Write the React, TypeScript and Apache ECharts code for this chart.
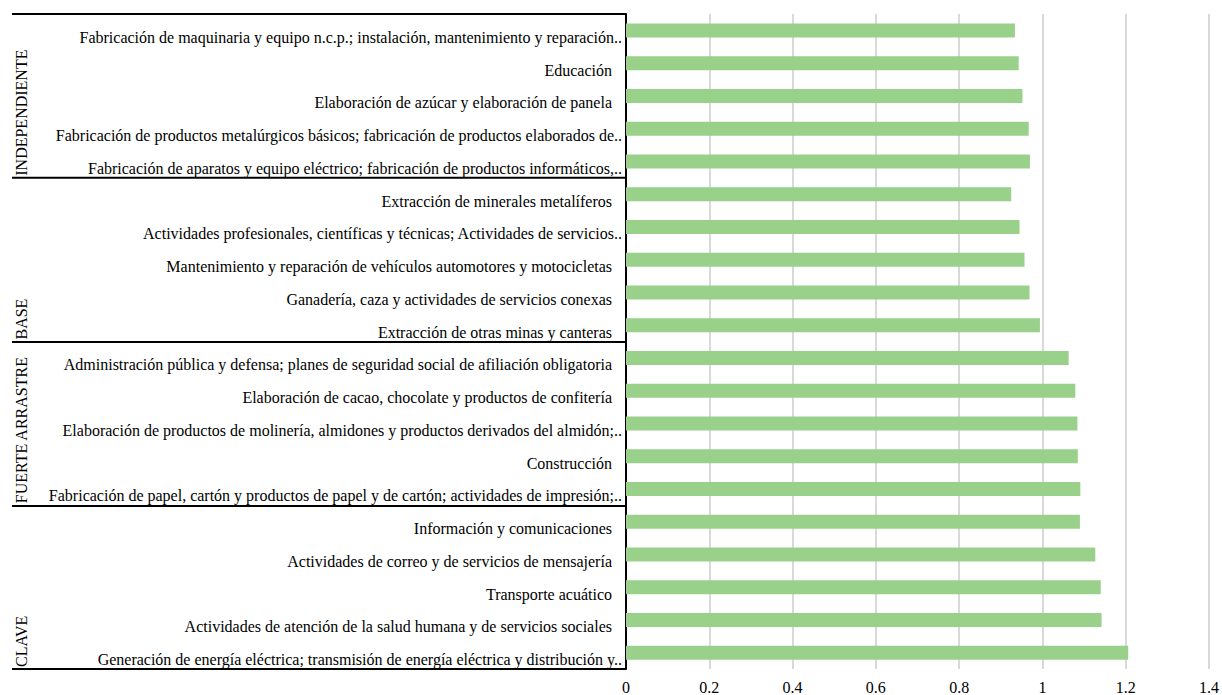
import React, { useEffect, useRef } from "react";
import * as echarts from "echarts";

const categories = [
  "Fabricación de maquinaria y equipo n.c.p.; instalación, mantenimiento y reparación..",
  "Educación",
  "Elaboración de azúcar y elaboración de panela",
  "Fabricación de productos metalúrgicos básicos; fabricación de productos elaborados de..",
  "Fabricación de aparatos y equipo eléctrico; fabricación de productos informáticos,..",
  "Extracción de minerales metalíferos",
  "Actividades profesionales, científicas y técnicas; Actividades de servicios..",
  "Mantenimiento y reparación de vehículos automotores y motocicletas",
  "Ganadería, caza y actividades de servicios conexas",
  "Extracción de otras minas y canteras",
  "Administración pública y defensa; planes de seguridad social de afiliación obligatoria",
  "Elaboración de cacao, chocolate y productos de confitería",
  "Elaboración de productos de molinería, almidones y productos derivados del almidón;..",
  "Construcción",
  "Fabricación de papel, cartón y productos de papel y de cartón; actividades de impresión;..",
  "Información y comunicaciones",
  "Actividades de correo y de servicios de mensajería",
  "Transporte acuático",
  "Actividades de atención de la salud humana y de servicios sociales",
  "Generación de energía eléctrica; transmisión de energía eléctrica y distribución y..",
];

const values = [
  0.934, 0.943, 0.952, 0.967, 0.97, 0.925, 0.945, 0.957, 0.969, 0.994, 1.063, 1.079, 1.084, 1.085,
  1.091, 1.09, 1.127, 1.14, 1.142, 1.206,
];

const groups = ["INDEPENDIENTE", "BASE", "FUERTE ARRASTRE", "CLAVE"];
const groupSizes = [5, 5, 5, 5];

const xMin = 0;
const xMax = 1.4;
const xInterval = 0.2;

const FONT = "'Liberation Serif', 'Times New Roman', serif";
const FS = 16;

export default function App() {
  const ref = useRef<HTMLDivElement>(null);

  useEffect(() => {
    if (!ref.current) return;
    const chart = echarts.init(ref.current, null, { renderer: "svg" });
    const boundaries = new Set<number>();
    let acc = 0;
    groupSizes.forEach((s) => {
      boundaries.add(acc);
      acc += s;
    });

    chart.setOption({
      animation: false,
      backgroundColor: "#ffffff",
      textStyle: { fontFamily: FONT },
      grid: { left: 626, right: 10, top: 14, bottom: 25, containLabel: false },
      xAxis: {
        type: "value",
        min: xMin,
        max: xMax,
        interval: xInterval,
        axisLine: { show: false },
        axisTick: { show: false },
        splitLine: { show: true, lineStyle: { color: "#d9d9d9", width: 2 } },
        axisLabel: {
          margin: 10,
          color: "#000",
          fontFamily: FONT,
          fontSize: FS,
          formatter: (v: number) => String(+v.toFixed(1)),
        },
      },
      yAxis: {
        type: "category",
        inverse: true,
        data: categories,
        axisLine: { show: true, lineStyle: { color: "#000", width: 2 } },
        axisTick: {
          show: true,
          length: 614,
          interval: (i: number) => boundaries.has(i),
          lineStyle: { color: "#000", width: 2 },
        },
        axisLabel: {
          interval: 0,
          margin: 4,
          color: "#000",
          fontFamily: FONT,
          fontSize: FS,
          formatter: (v: string) => (v.endsWith("..") ? `{a|${v}}` : `{b|${v}}`),
          rich: {
            a: { fontFamily: FONT, fontSize: FS, color: "#000", padding: [14, 0, 0, 0] },
            b: { fontFamily: FONT, fontSize: FS, color: "#000", padding: [14, 10, 0, 0] },
          },
        },
      },
      series: [
        {
          type: "bar",
          data: values,
          barWidth: 14,
          itemStyle: { color: "#99d18b" },
        },
      ],
    });

    const y0 = chart.convertToPixel({ yAxisIndex: 0 }, categories[0]) as number;
    const y1 = chart.convertToPixel({ yAxisIndex: 0 }, categories[1]) as number;
    const band = y1 - y0;
    let end = -1;
    const graphics = groups.map((g, gi) => {
      end += groupSizes[gi];
      const yc = chart.convertToPixel({ yAxisIndex: 0 }, categories[end]) as number;
      const bottom = yc + band / 2;
      return {
        type: "text",
        x: 21,
        y: bottom - 2,
        rotation: Math.PI / 2,
        style: {
          text: g,
          fontFamily: FONT,
          fontSize: FS,
          fill: "#000",
          align: "left",
          verticalAlign: "middle",
        },
      };
    });
    chart.setOption({ graphic: graphics });

    return () => chart.dispose();
  }, []);

  return (
    <div
      ref={ref}
      style={{ position: "fixed", left: 0, top: 0, width: 1222, height: 695, background: "#fff" }}
    />
  );
}
